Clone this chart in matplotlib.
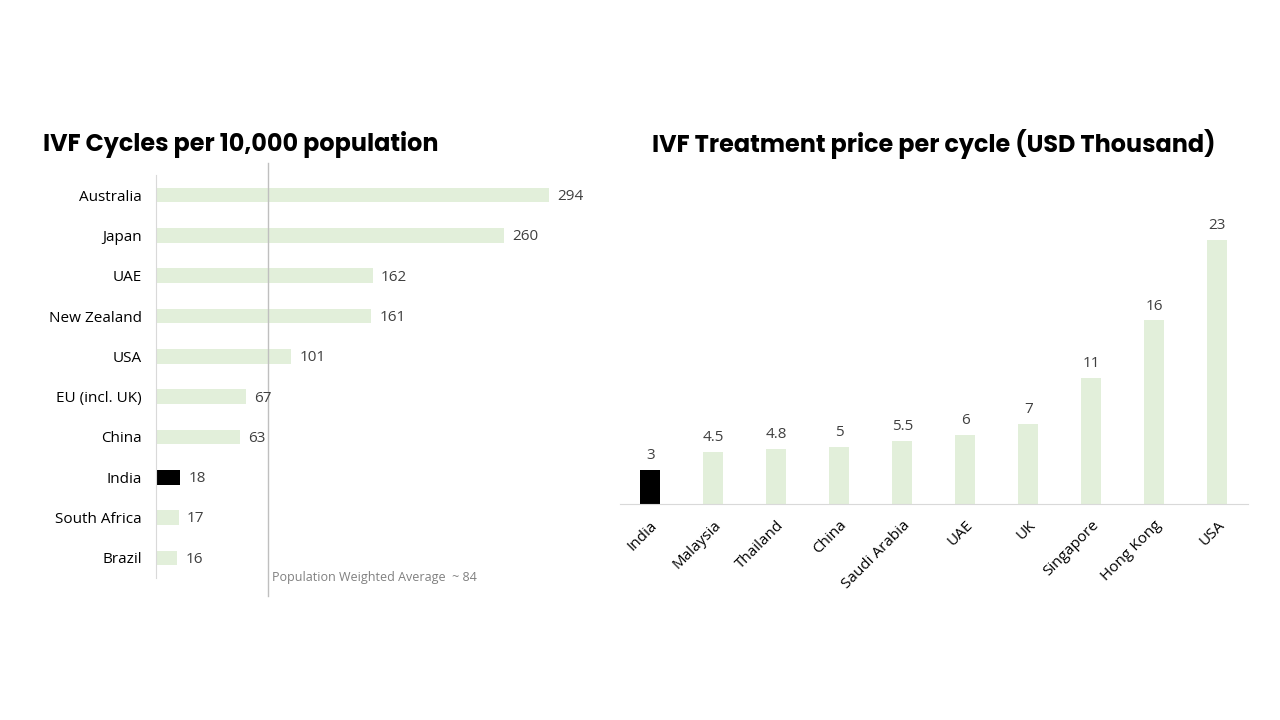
import matplotlib.pyplot as plt

plt.rcParams['font.family'] = ['Open Sans', 'DejaVu Sans']

# left chart: IVF cycles per 10,000 population
cycle_countries = ['Australia', 'Japan', 'UAE', 'New Zealand', 'USA',
                   'EU (incl. UK)', 'China', 'India', 'South Africa', 'Brazil']
cycle_values = [294, 260, 162, 161, 101, 67, 63, 18, 17, 16]
weighted_avg = 84

# right chart: IVF treatment price per cycle (USD thousand)
price_countries = ['India', 'Malaysia', 'Thailand', 'China', 'Saudi Arabia',
                   'UAE', 'UK', 'Singapore', 'Hong Kong', 'USA']
price_values = [3, 4.5, 4.8, 5, 5.5, 6, 7, 11, 16, 23]
price_labels = ['3', '4.5', '4.8', '5', '5.5', '6', '7', '11', '16', '23']

green = '#e2efda'
grey_txt = '#404040'
line_col = '#bfbfbf'

fig = plt.figure(figsize=(12.8, 7.2), dpi=100)

# ---- left
ax1 = fig.add_axes([156 / 1280, 142 / 720, 428 / 1280, 403 / 720])
cols = ['black' if c == 'India' else green for c in cycle_countries]
ax1.barh(range(len(cycle_values)), cycle_values, height=0.36, color=cols)
ax1.set_xlim(0, 320)
ax1.set_ylim(9.5, -0.5)
ax1.set_yticks(range(len(cycle_countries)))
ax1.set_yticklabels(cycle_countries, fontsize=11, color='black')
ax1.tick_params(axis='y', length=0, pad=10)
ax1.set_xticks([])
for s in ['top', 'right', 'bottom']:
    ax1.spines[s].set_visible(False)
ax1.spines['left'].set_color('#d9d9d9')
ax1.spines['left'].set_linewidth(0.8)
for i, v in enumerate(cycle_values):
    ax1.annotate(str(v), (v, i), xytext=(6, -1), textcoords='offset points',
                 va='center', ha='left', fontsize=11, color=grey_txt)
ax1.axvline(weighted_avg, ymin=-0.045, ymax=1.03, color=line_col, lw=1,
            clip_on=False)
ax1.text(weighted_avg + 3, 9.48, 'Population Weighted Average  ~ 84',
         fontsize=9, color='#808080', va='center', ha='left')
fig.text(43 / 1280, 1 - 144 / 720, 'IVF Cycles per 10,000 population',
         fontsize=17.2, fontweight='bold', va='center', ha='left',
         family=['Poppins', 'DejaVu Sans'])

# ---- right
ax2 = fig.add_axes([620 / 1280, 216 / 720, 628 / 1280, 304 / 720])
cols2 = ['black' if c == 'India' else green for c in price_countries]
x = range(len(price_values))
ax2.bar(x, price_values, width=0.32, color=cols2)
ax2.set_xlim(-0.48, 9.49)
ax2.set_ylim(0, 26.5)
ax2.set_yticks([])
ax2.set_xticks(list(x))
ax2.set_xticklabels(price_countries, rotation=45, ha='right',
                    rotation_mode='anchor', fontsize=11, color='black')
ax2.tick_params(axis='x', length=0, pad=10)
for s in ['top', 'right', 'left']:
    ax2.spines[s].set_visible(False)
ax2.spines['bottom'].set_color('#d9d9d9')
ax2.spines['bottom'].set_linewidth(0.8)
for i, (v, lab) in enumerate(zip(price_values, price_labels)):
    ax2.annotate(lab, (i, v), xytext=(0, 5), textcoords='offset points',
                 ha='center', va='bottom', fontsize=11, color=grey_txt)
fig.text(934 / 1280, 1 - 144 / 720,
         'IVF Treatment price per cycle (USD Thousand)',
         fontsize=17.2, fontweight='bold', va='center', ha='center',
         family=['Poppins', 'DejaVu Sans'])

fig.savefig('out.png', dpi=100)
